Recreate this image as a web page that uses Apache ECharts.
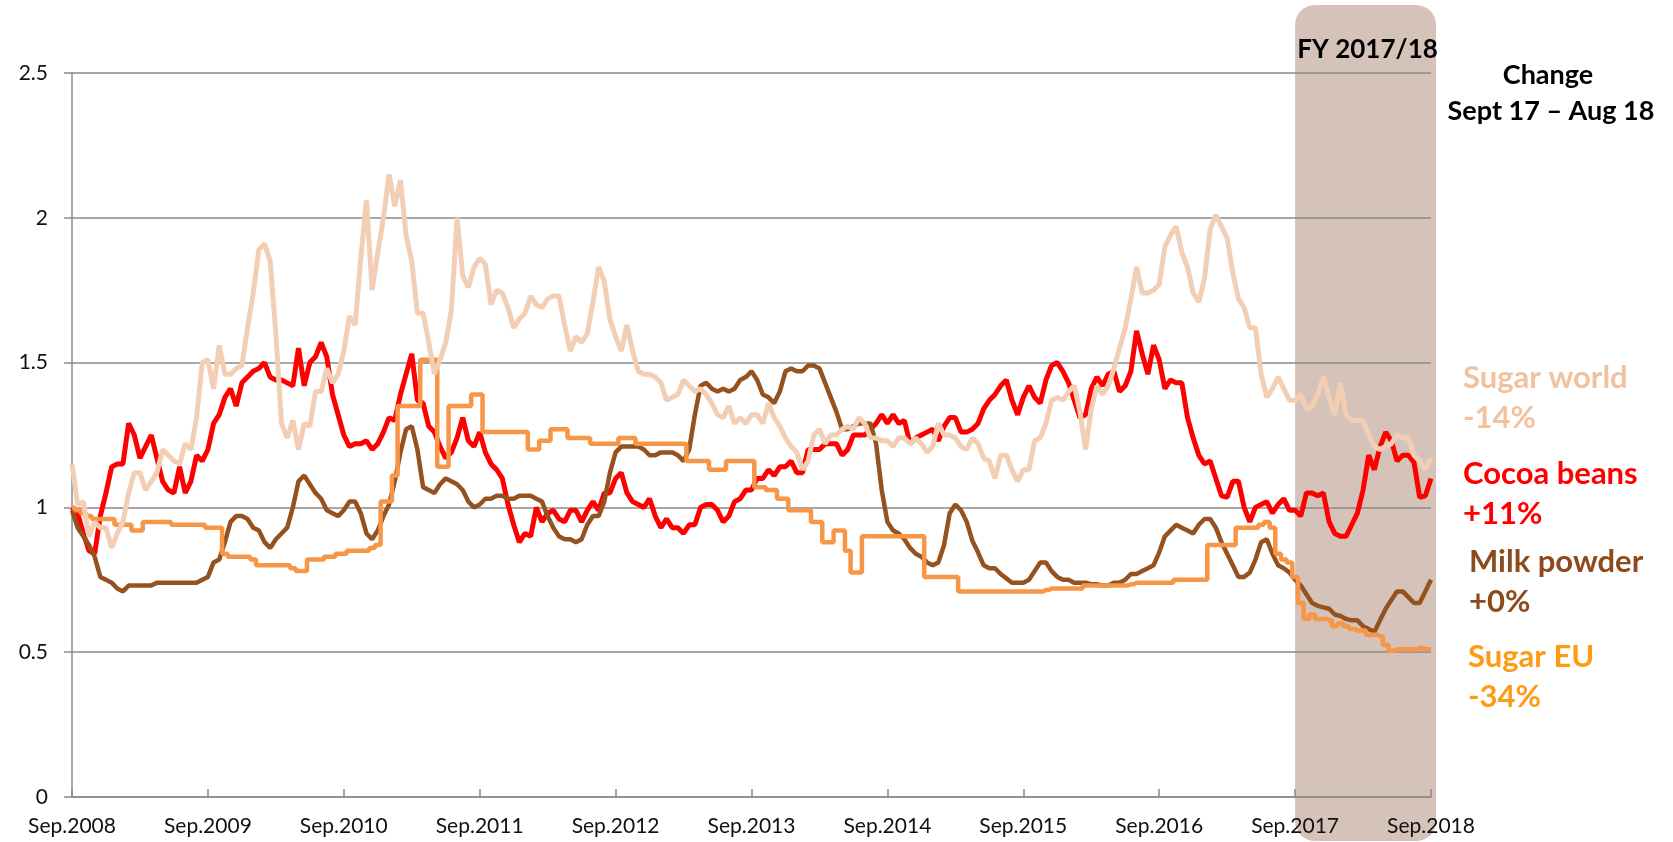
<!DOCTYPE html>
<html>
<head>
<meta charset="utf-8">
<script src="https://cdn.jsdelivr.net/npm/echarts@6/dist/echarts.min.js"></script>
<style>
  html, body { margin: 0; padding: 0; background: #fff; }
  #chart { width: 1673px; height: 842px; }
</style>
</head>
<body>
<div id="chart"></div>
<script>
// x in years since Sep 2008, one point every half month (1/24 year)
var yearLabels = ["Sep.2008", "Sep.2009", "Sep.2010", "Sep.2011", "Sep.2012", "Sep.2013",
  "Sep.2014", "Sep.2015", "Sep.2016", "Sep.2017", "Sep.2018"];

var cocoaBeans = [
  1.00, 0.98, 0.91, 0.85, 0.84, 0.97, 1.05, 1.14, 1.15, 1.15,
  1.29, 1.25, 1.17, 1.21, 1.25, 1.17, 1.09, 1.06, 1.05, 1.14,
  1.05, 1.09, 1.18, 1.16, 1.20, 1.29, 1.32, 1.38, 1.41, 1.35,
  1.43, 1.45, 1.47, 1.48, 1.50, 1.45, 1.44, 1.44, 1.43, 1.42,
  1.55, 1.42, 1.50, 1.52, 1.57, 1.52, 1.39, 1.32, 1.25, 1.21,
  1.22, 1.22, 1.23, 1.20, 1.22, 1.26, 1.31, 1.30, 1.39, 1.46,
  1.53, 1.37, 1.36, 1.28, 1.26, 1.21, 1.17, 1.19, 1.24, 1.31,
  1.23, 1.21, 1.26, 1.19, 1.15, 1.13, 1.10, 1.01, 0.94, 0.88,
  0.91, 0.90, 1.00, 0.95, 0.98, 0.99, 0.96, 0.95, 0.99, 0.99,
  0.95, 0.99, 1.02, 0.99, 1.05, 1.05, 1.10, 1.12, 1.05, 1.02,
  1.01, 1.00, 1.03, 0.97, 0.93, 0.96, 0.93, 0.93, 0.91, 0.94,
  0.94, 1.00, 1.01, 1.01, 0.99, 0.95, 0.97, 1.02, 1.03, 1.06,
  1.06, 1.10, 1.10, 1.13, 1.11, 1.14, 1.14, 1.16, 1.12, 1.12,
  1.20, 1.20, 1.20, 1.22, 1.22, 1.22, 1.18, 1.20, 1.25, 1.25,
  1.25, 1.27, 1.29, 1.32, 1.29, 1.32, 1.29, 1.30, 1.22, 1.24,
  1.25, 1.26, 1.27, 1.23, 1.28, 1.31, 1.31, 1.26, 1.26, 1.27,
  1.29, 1.34, 1.37, 1.39, 1.42, 1.44, 1.37, 1.32, 1.38, 1.42,
  1.38, 1.36, 1.44, 1.49, 1.50, 1.47, 1.43, 1.37, 1.31, 1.32,
  1.41, 1.45, 1.42, 1.46, 1.47, 1.40, 1.42, 1.47, 1.61, 1.53,
  1.46, 1.56, 1.51, 1.41, 1.44, 1.43, 1.43, 1.31, 1.24, 1.18,
  1.15, 1.16, 1.10, 1.04, 1.035, 1.09, 1.09, 1.00, 0.95, 1.00,
  1.01, 1.02, 0.98, 1.01, 1.03, 0.99, 0.99, 0.97, 1.05, 1.05,
  1.04, 1.05, 0.95, 0.91, 0.90, 0.90, 0.94, 0.98, 1.06, 1.18,
  1.13, 1.21, 1.26, 1.23, 1.16, 1.18, 1.18, 1.155, 1.035, 1.04,
  1.10
];

var sugarWorld = [
  1.15, 1.01, 1.02, 0.90, 0.95, 0.93, 0.93, 0.86, 0.91, 0.95,
  1.05, 1.12, 1.12, 1.06, 1.09, 1.12, 1.20, 1.18, 1.16, 1.15,
  1.22, 1.20, 1.31, 1.50, 1.51, 1.41, 1.56, 1.46, 1.46, 1.48,
  1.49, 1.62, 1.74, 1.89, 1.91, 1.85, 1.60, 1.29, 1.24, 1.30,
  1.20, 1.29, 1.28, 1.40, 1.40, 1.48, 1.43, 1.46, 1.54, 1.66,
  1.63, 1.86, 2.06, 1.75, 1.88, 2.00, 2.15, 2.04, 2.13, 1.94,
  1.85, 1.67, 1.67, 1.57, 1.46, 1.51, 1.57, 1.68, 2.00, 1.80,
  1.76, 1.83, 1.86, 1.84, 1.70, 1.75, 1.74, 1.69, 1.62, 1.65,
  1.67, 1.73, 1.70, 1.69, 1.72, 1.73, 1.73, 1.63, 1.54, 1.59,
  1.57, 1.60, 1.71, 1.83, 1.78, 1.65, 1.59, 1.54, 1.63, 1.54,
  1.47, 1.46, 1.46, 1.45, 1.43, 1.37, 1.38, 1.39, 1.44, 1.42,
  1.40, 1.41, 1.39, 1.36, 1.32, 1.31, 1.35, 1.29, 1.31, 1.29,
  1.32, 1.32, 1.29, 1.36, 1.31, 1.28, 1.24, 1.21, 1.19, 1.13,
  1.16, 1.25, 1.27, 1.22, 1.25, 1.25, 1.27, 1.28, 1.27, 1.31,
  1.29, 1.24, 1.24, 1.23, 1.23, 1.21, 1.24, 1.24, 1.22, 1.24,
  1.22, 1.19, 1.21, 1.29, 1.25, 1.25, 1.24, 1.21, 1.20, 1.24,
  1.22, 1.17, 1.16, 1.10, 1.18, 1.18, 1.13, 1.09, 1.13, 1.13,
  1.23, 1.24, 1.29, 1.37, 1.38, 1.37, 1.40, 1.42, 1.33, 1.20,
  1.34, 1.42, 1.39, 1.42, 1.48, 1.55, 1.62, 1.72, 1.83, 1.74,
  1.74, 1.75, 1.77, 1.90, 1.94, 1.97, 1.88, 1.83, 1.74, 1.71,
  1.79, 1.96, 2.01, 1.97, 1.93, 1.81, 1.72, 1.69, 1.62, 1.62,
  1.46, 1.38, 1.41, 1.45, 1.41, 1.37, 1.37, 1.39, 1.34, 1.35,
  1.39, 1.45, 1.38, 1.32, 1.43, 1.32, 1.30, 1.30, 1.30, 1.25,
  1.21, 1.20, 1.21, 1.22, 1.25, 1.24, 1.24, 1.18, 1.16, 1.13,
  1.17
];

var milkPowder = [
  0.99, 0.93, 0.90, 0.87, 0.83, 0.76, 0.75, 0.74, 0.72, 0.71,
  0.73, 0.73, 0.73, 0.73, 0.73, 0.74, 0.74, 0.74, 0.74, 0.74,
  0.74, 0.74, 0.74, 0.75, 0.76, 0.81, 0.82, 0.88, 0.95, 0.97,
  0.97, 0.96, 0.93, 0.92, 0.88, 0.86, 0.89, 0.91, 0.93, 1.00,
  1.09, 1.11, 1.08, 1.05, 1.03, 0.99, 0.98, 0.97, 0.99, 1.02,
  1.02, 0.98, 0.91, 0.89, 0.92, 0.97, 1.01, 1.09, 1.19, 1.27,
  1.28, 1.20, 1.07, 1.06, 1.05, 1.08, 1.10, 1.09, 1.08, 1.06,
  1.02, 1.00, 1.01, 1.03, 1.03, 1.04, 1.04, 1.03, 1.03, 1.04,
  1.04, 1.04, 1.03, 1.02, 0.97, 0.93, 0.90, 0.89, 0.89, 0.88,
  0.89, 0.94, 0.97, 0.97, 1.02, 1.12, 1.19, 1.21, 1.21, 1.21,
  1.21, 1.20, 1.18, 1.18, 1.19, 1.19, 1.19, 1.18, 1.16, 1.20,
  1.32, 1.42, 1.43, 1.41, 1.40, 1.41, 1.40, 1.41, 1.44, 1.45,
  1.47, 1.44, 1.39, 1.38, 1.36, 1.40, 1.47, 1.48, 1.47, 1.47,
  1.49, 1.49, 1.48, 1.43, 1.38, 1.33, 1.27, 1.27, 1.28, 1.29,
  1.29, 1.29, 1.22, 1.06, 0.95, 0.92, 0.91, 0.89, 0.86, 0.84,
  0.83, 0.81, 0.80, 0.81, 0.87, 0.98, 1.01, 0.99, 0.95, 0.885,
  0.845, 0.80, 0.79, 0.79, 0.77, 0.755, 0.74, 0.74, 0.74, 0.75,
  0.78, 0.81, 0.81, 0.78, 0.76, 0.75, 0.75, 0.74, 0.74, 0.74,
  0.735, 0.735, 0.73, 0.73, 0.74, 0.74, 0.75, 0.77, 0.77, 0.78,
  0.79, 0.80, 0.845, 0.90, 0.92, 0.94, 0.93, 0.92, 0.91, 0.94,
  0.96, 0.96, 0.93, 0.88, 0.84, 0.80, 0.76, 0.76, 0.775, 0.82,
  0.88, 0.89, 0.84, 0.80, 0.79, 0.775, 0.75, 0.73, 0.70, 0.67,
  0.66, 0.655, 0.65, 0.63, 0.625, 0.615, 0.61, 0.61, 0.59, 0.58,
  0.57, 0.61, 0.65, 0.68, 0.71, 0.71, 0.69, 0.67, 0.67, 0.71,
  0.75
];

var sugarEU = [
  1.00, 0.99, 0.98, 0.97, 0.96, 0.96, 0.96, 0.96, 0.94, 0.94,
  0.94, 0.92, 0.92, 0.95, 0.95, 0.95, 0.95, 0.95, 0.94, 0.94,
  0.94, 0.94, 0.94, 0.94, 0.93, 0.93, 0.93, 0.84, 0.83, 0.83,
  0.83, 0.83, 0.82, 0.80, 0.80, 0.80, 0.80, 0.80, 0.80, 0.79,
  0.78, 0.78, 0.82, 0.82, 0.82, 0.83, 0.83, 0.84, 0.84, 0.85,
  0.85, 0.85, 0.85, 0.86, 0.87, 1.02, 1.02, 1.11, 1.35, 1.35,
  1.35, 1.35, 1.51, 1.51, 1.51, 1.14, 1.14, 1.35, 1.35, 1.35,
  1.35, 1.39, 1.39, 1.26, 1.26, 1.26, 1.26, 1.26, 1.26, 1.26,
  1.26, 1.20, 1.20, 1.23, 1.23, 1.27, 1.27, 1.27, 1.24, 1.24,
  1.24, 1.24, 1.22, 1.22, 1.22, 1.22, 1.22, 1.24, 1.24, 1.24,
  1.22, 1.22, 1.22, 1.22, 1.22, 1.22, 1.22, 1.22, 1.22, 1.16,
  1.16, 1.16, 1.16, 1.13, 1.13, 1.13, 1.16, 1.16, 1.16, 1.16,
  1.16, 1.07, 1.07, 1.06, 1.06, 1.03, 1.03, 0.99, 0.99, 0.99,
  0.99, 0.95, 0.95, 0.88, 0.88, 0.92, 0.92, 0.85, 0.775, 0.775,
  0.90, 0.90, 0.90, 0.90, 0.90, 0.90, 0.90, 0.90, 0.90, 0.90,
  0.90, 0.76, 0.76, 0.76, 0.76, 0.76, 0.76, 0.71, 0.71, 0.71,
  0.71, 0.71, 0.71, 0.71, 0.71, 0.71, 0.71, 0.71, 0.71, 0.71,
  0.71, 0.71, 0.715, 0.72, 0.72, 0.72, 0.72, 0.72, 0.72, 0.73,
  0.73, 0.73, 0.73, 0.73, 0.73, 0.73, 0.73, 0.735, 0.74, 0.74,
  0.74, 0.74, 0.74, 0.74, 0.74, 0.75, 0.75, 0.75, 0.75, 0.75,
  0.75, 0.87, 0.87, 0.87, 0.87, 0.87, 0.93, 0.93, 0.93, 0.93,
  0.94, 0.95, 0.93, 0.84, 0.82, 0.81, 0.76, 0.67, 0.615, 0.63,
  0.615, 0.615, 0.61, 0.59, 0.60, 0.59, 0.58, 0.575, 0.575, 0.56,
  0.56, 0.555, 0.525, 0.505, 0.51, 0.51, 0.51, 0.51, 0.515, 0.51,
  0.51
];

// labels on the right: name and change Sept 17 - Aug 18
var endNames = ["Sugar world", "Cocoa beans", "Milk powder", "Sugar EU"];
var endChanges = ["-14%", "+11%", "+0%", "-34%"];

var FONT = 'Lato, "Liberation Sans", sans-serif';
var AXIS_GREY = "#8a8a8a";
var STEP = 1 / 24;

function toPoints(arr) {
  return arr.map(function (v, i) {
    return [i * STEP, v];
  });
}

var chart = echarts.init(document.getElementById("chart"));

var option = {
  animation: false,
  backgroundColor: "#fff",
  textStyle: { fontFamily: FONT },
  grid: { left: 72, right: 242, top: 73, bottom: 45 },
  xAxis: {
    type: "value",
    min: 0,
    max: 10,
    interval: 1,
    axisLine: { lineStyle: { color: AXIS_GREY, width: 1.5 } },
    axisTick: { inside: true, length: 8, lineStyle: { color: AXIS_GREY, width: 1.5 } },
    axisLabel: {
      margin: 19,
      fontSize: 21,
      color: "#111",
      formatter: function (v) {
        return yearLabels[Math.round(v)];
      }
    },
    splitLine: { show: false }
  },
  yAxis: {
    type: "value",
    min: 0,
    max: 2.5,
    interval: 0.5,
    axisLine: { show: true, lineStyle: { color: AXIS_GREY, width: 1.5 } },
    axisTick: { show: true, length: 8, lineStyle: { color: AXIS_GREY, width: 1.5 } },
    axisLabel: { margin: 24, fontSize: 21, color: "#111" },
    splitLine: { lineStyle: { color: AXIS_GREY, width: 1.5 } }
  },
  series: [
    {
      name: "Cocoa beans",
      type: "line",
      showSymbol: false,
      silent: true,
      data: toPoints(cocoaBeans),
      lineStyle: { color: "#ff0000", width: 5 }
    },
    {
      name: "Milk powder",
      type: "line",
      showSymbol: false,
      silent: true,
      data: toPoints(milkPowder),
      lineStyle: { color: "#95521f", width: 4.5 }
    },
    {
      name: "Sugar EU",
      type: "line",
      step: "middle",
      showSymbol: false,
      silent: true,
      data: toPoints(sugarEU),
      lineStyle: { color: "#f79646", width: 4.5 }
    },
    {
      name: "Sugar world",
      type: "line",
      showSymbol: false,
      silent: true,
      data: toPoints(sugarWorld),
      lineStyle: { color: "#f2cfb4", width: 5 }
    }
  ]
};

chart.setOption(option);

// shaded FY 2017/18 band, placed from the axis scale
var bandLeft = chart.convertToPixel({ gridIndex: 0 }, [9, 0])[0];
var bandRight = chart.convertToPixel({ gridIndex: 0 }, [10, 0])[0] + 5;

var labelColors = ["#f1c29d", "#ff0000", "#8d4b1d", "#ff9a14"];
var labelX = [1463, 1463, 1469, 1468];
var labelY = [378, 474, 562, 657];

var graphics = [
  {
    type: "rect",
    z: -1,
    shape: { x: bandLeft, y: 5, width: bandRight - bandLeft, height: 836, r: 20 },
    style: { fill: "#d5c3ba" }
  },
  {
    type: "text",
    x: (bandLeft + bandRight) / 2 + 2,
    y: 50,
    style: {
      text: "FY 2017/18",
      font: "bold 26px " + FONT,
      fill: "#000",
      align: "center",
      verticalAlign: "middle"
    }
  },
  {
    type: "text",
    x: 1548,
    y: 75,
    style: { text: "Change", font: "bold 27px " + FONT, fill: "#000", align: "center", verticalAlign: "middle" }
  },
  {
    type: "text",
    x: 1551,
    y: 111,
    style: { text: "Sept 17 \u2013 Aug 18", font: "bold 27px " + FONT, fill: "#000", align: "center", verticalAlign: "middle" }
  }
];

endNames.forEach(function (name, k) {
  graphics.push({
    type: "text",
    x: labelX[k],
    y: labelY[k],
    style: { text: name, font: "bold 31px " + FONT, fill: labelColors[k], align: "left", verticalAlign: "middle" }
  });
  graphics.push({
    type: "text",
    x: labelX[k],
    y: labelY[k] + 40,
    style: { text: endChanges[k], font: "bold 31px " + FONT, fill: labelColors[k], align: "left", verticalAlign: "middle" }
  });
});

chart.setOption({ graphic: graphics });
</script>
</body>
</html>
